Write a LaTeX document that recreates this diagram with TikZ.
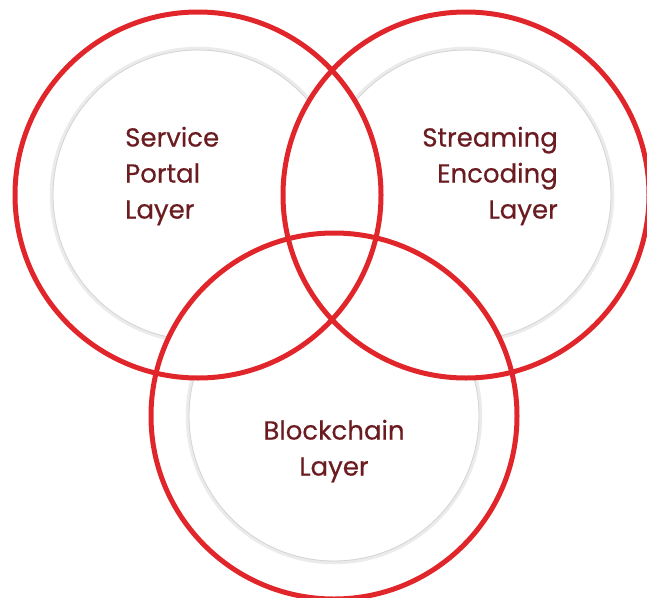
\documentclass[tikz,border=0pt]{standalone}
\usepackage{fontspec}
\setmainfont{Poppins}
\newfontfamily\capafont{Poppins}[FakeBold=0.5]
\usepackage{xcolor}

\definecolor{anillo}{HTML}{E0262B}
\definecolor{texto}{HTML}{6B1C20}

\tikzset{
  capa/.style={text=texto, font=\capafont\fontsize{26}{36}\selectfont, inner sep=0pt},
  aro/.style={draw=anillo, line width=5pt},
  sombra/.style={draw=black!8, line width=3.5pt},
  borde/.style={draw=black!17, line width=0.8pt}
}

\begin{document}
\begin{tikzpicture}[x=1pt, y=-1pt]

    % marco de la figura
    \useasboundingbox (0,0) rectangle (647,597);

    % centros de los tres circulos
    \coordinate (cizq) at (198,195);
    \coordinate (cder) at (466,195);
    \coordinate (cabj) at (334,416);

    % circulo interior izquierdo (fuera de los otros dos)
    \begin{scope}[even odd rule]
      \clip (-20,-20) rectangle (667,617) (cder) circle[radius=183pt];
      \clip (-20,-20) rectangle (667,617) (cabj) circle[radius=183pt];
      \draw[sombra] (cizq) circle[radius=146.5pt];
      \draw[borde] (cizq) circle[radius=145pt];
    \end{scope}

    % circulo interior derecho
    \begin{scope}[even odd rule]
      \clip (-20,-20) rectangle (667,617) (cizq) circle[radius=183pt];
      \clip (-20,-20) rectangle (667,617) (cabj) circle[radius=183pt];
      \draw[sombra] (cder) circle[radius=146.5pt];
      \draw[borde] (cder) circle[radius=145pt];
    \end{scope}

    % circulo interior de abajo
    \begin{scope}[even odd rule]
      \clip (-20,-20) rectangle (667,617) (cizq) circle[radius=183pt];
      \clip (-20,-20) rectangle (667,617) (cder) circle[radius=183pt];
      \draw[sombra] (cabj) circle[radius=146.5pt];
      \draw[borde] (cabj) circle[radius=145pt];
    \end{scope}

    % aros rojos
    \draw[aro] (cizq) circle[radius=183pt];
    \draw[aro] (cder) circle[radius=183pt];
    \draw[aro] (cabj) circle[radius=183pt];

    %leyendas
    \node[capa, align=left, anchor=west] (servicio) at (125,176) {Service\\Portal\\Layer};
    \node[capa, align=right, anchor=east] (streaming) at (558,176) {Streaming\\Encoding\\Layer};
    \node[capa, align=center] (blockchain) at (334,451) {Blockchain\\Layer};

\end{tikzpicture}
\end{document}
